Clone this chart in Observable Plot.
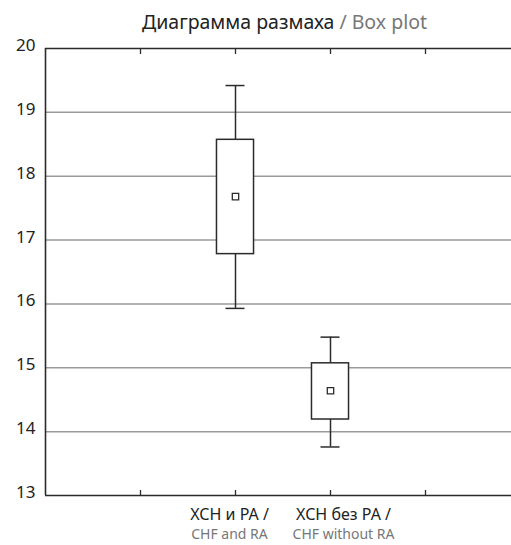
<!DOCTYPE html>
<html>
<head>
<meta charset="utf-8">
<script src="https://cdn.jsdelivr.net/npm/d3@7"></script>
<script src="https://cdn.jsdelivr.net/npm/@observablehq/plot@0.6"></script>
<style>
  html, body { margin: 0; padding: 0; background: #fff; }
  body { width: 511px; font-family: "Noto Sans", sans-serif; }
  #title { height: 30px; box-sizing: border-box; padding-top: 12px; padding-left: 58px; text-align: center; font-size: 19.5px; line-height: 20px; color: #222; white-space: nowrap; overflow: visible; }
  #title .en { color: #777; }
  svg { display: block; }
</style>
</head>
<body>
<div id="title">Диаграмма размаха <span class="en">/ Box plot</span></div>
<div id="chart"></div>
<script>
const categoriesRu = ["ХСН и РА /", "ХСН без РА /"];
const categoriesEn = ["CHF and RA", "CHF without RA"];
const whiskerLow  = [15.93, 13.76];
const q1          = [16.78, 14.19];
const mean        = [17.68, 14.64];
const q3          = [18.57, 15.07];
const whiskerHigh = [19.42, 15.48];
const yTicks = [13, 14, 15, 16, 17, 18, 19, 20];

const data = categoriesRu.map((c, i) => ({
  ru: c, en: categoriesEn[i], pos: i + 2,
  lo: whiskerLow[i], q1: q1[i], mean: mean[i], q3: q3[i], hi: whiskerHigh[i]
}));

const boxHalf = 0.195;
const capHalf = 0.1;
const labelShift = [-6, 13];
const ink = "#2b2b2b";

const chart = Plot.plot({
  width: 511,
  height: 515,
  marginTop: 18,
  marginBottom: 50,
  marginLeft: 45,
  marginRight: 0,
  style: { fontFamily: "Noto Sans, sans-serif", fontSize: "16px", color: "#222", overflow: "visible" },
  x: { type: "linear", domain: [0, 5], range: [45, 520], axis: null },
  y: { domain: [13, 20], axis: null },
  marks: [
    Plot.ruleY(yTicks.filter(d => d > 13 && d < 20), { stroke: "#9a9a9a", strokeWidth: 1.5, x1: 0, x2: 5 }),
    Plot.axisY(yTicks, { anchor: "left", tickSize: 0, tickPadding: 10, dy: -3, fontSize: 17, fill: "#222", label: null, tickFormat: "d" }),
    Plot.axisX([1, 2, 3, 4], { anchor: "top", tickSize: -5, tickFormat: () => "", label: null, stroke: ink, strokeWidth: 1.3 }),
    Plot.axisX([1, 2, 3, 4], { anchor: "bottom", tickSize: -5, tickFormat: () => "", label: null, stroke: ink, strokeWidth: 1.3 }),
    Plot.ruleY([13, 20], { x1: 0, x2: 5, stroke: ink, strokeWidth: 1.6 }),
    Plot.ruleX([0], { y1: 13, y2: 20, stroke: ink, strokeWidth: 1.6 }),
    // whiskers
    Plot.ruleX(data, { x: "pos", y1: "lo", y2: "q1", stroke: ink, strokeWidth: 1.5 }),
    Plot.ruleX(data, { x: "pos", y1: "q3", y2: "hi", stroke: ink, strokeWidth: 1.5 }),
    Plot.ruleY(data, { y: "lo", x1: d => d.pos - capHalf, x2: d => d.pos + capHalf, stroke: ink, strokeWidth: 1.5 }),
    Plot.ruleY(data, { y: "hi", x1: d => d.pos - capHalf, x2: d => d.pos + capHalf, stroke: ink, strokeWidth: 1.5 }),
    // boxes
    Plot.rect(data, { x1: d => d.pos - boxHalf, x2: d => d.pos + boxHalf, y1: "q1", y2: "q3", fill: "white", stroke: ink, strokeWidth: 1.5 }),
    Plot.dot(data, { x: "pos", y: "mean", symbol: "square", r: 3.6, fill: "white", stroke: ink, strokeWidth: 1.3 }),
    // category labels
    ...data.map((d, i) => Plot.text([d], { x: "pos", text: "ru", frameAnchor: "bottom", dx: labelShift[i], dy: 24, fontSize: 16, fill: "#222" })),
    ...data.map((d, i) => Plot.text([d], { x: "pos", text: "en", frameAnchor: "bottom", dx: labelShift[i], dy: 43, fontSize: 14, fill: "#777" }))
  ]
});
document.getElementById("chart").appendChild(chart);
</script>
</body>
</html>
